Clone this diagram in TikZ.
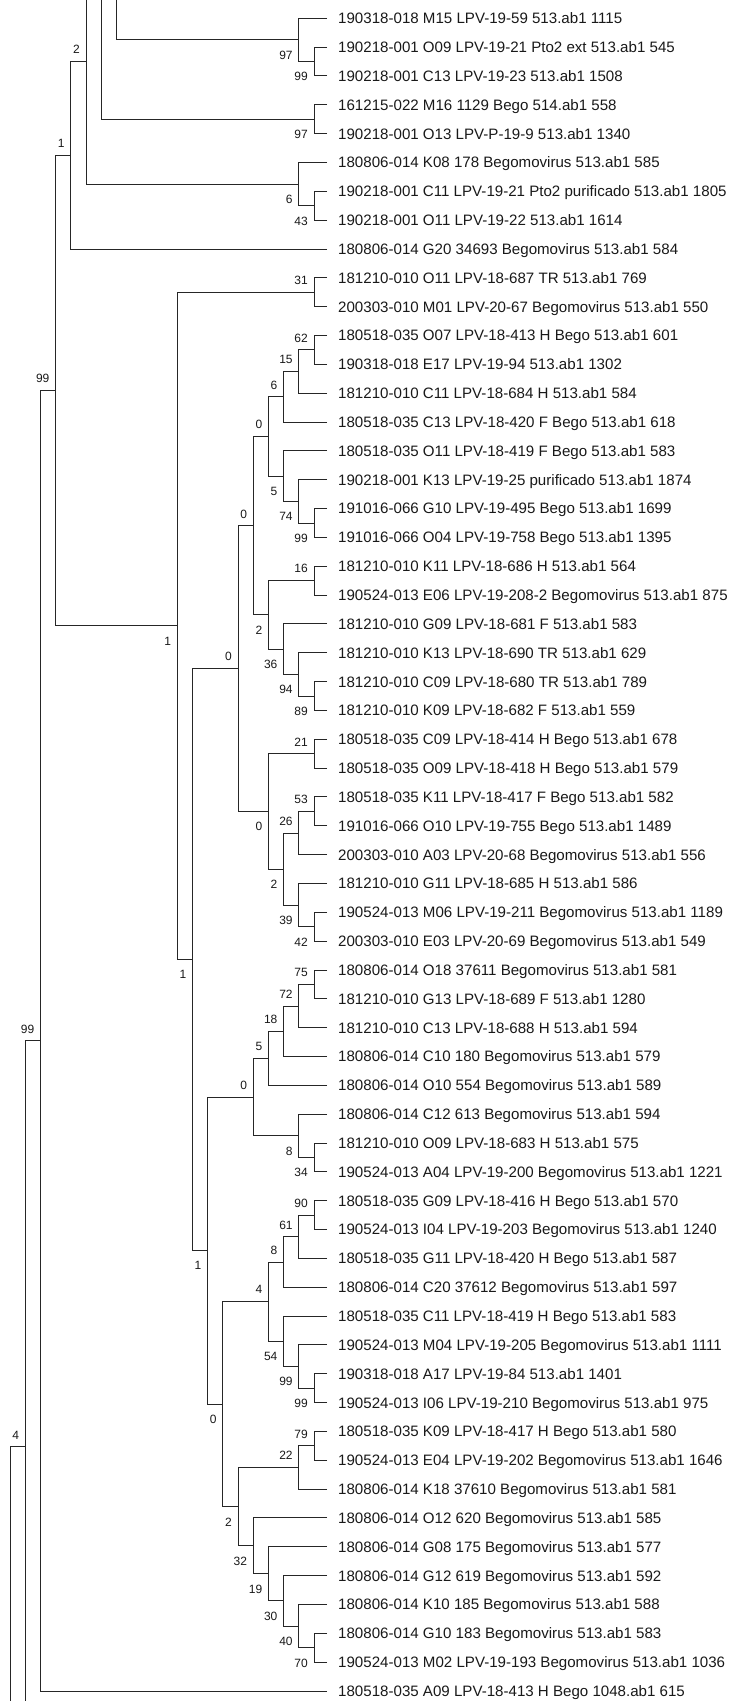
\documentclass[tikz,border=0pt]{standalone}
\usepackage{fontspec}
\setmainfont{Liberation Sans}
\usetikzlibrary{calc}
\tikzset{
  branch/.style={line width=1pt, draw=black!85},
  leaf/.style={anchor=west, inner xsep=11pt, inner ysep=0pt, text height=10.8pt, text depth=0pt, font=\fontsize{15.1}{17}\selectfont, text=black!90},
  bs/.style={anchor=east, inner sep=0pt, text height=8.6pt, text depth=0pt, font=\fontsize{12}{14}\selectfont, text=black!90}
}
\newcommand\tleaf[2]{\node[leaf] (L#1) at (327,{18.3+(#1-1)*28.84}) {#2};}
\newcommand\tnode[4]{\coordinate (#1) at ($(#2 |- #3)!.5!(#2 |- #4)$);}
\newcommand\tbr[2]{\draw[branch] (#1) -| (#2);}
\newcommand\labA[2]{\node[bs] (b#1) at ([xshift=-6pt,yshift=12pt]#1) {#2};}
\newcommand\labB[2]{\node[bs] (b#1) at ([xshift=-6pt,yshift=-15pt]#1) {#2};}
\begin{document}
\begin{tikzpicture}[x=1pt,y=-1pt]
\fill[white] (0,0) rectangle (731,1701);
\clip (0,0) rectangle (731,1701);
\useasboundingbox (0,0) rectangle (731,1701);
% level columns
\coordinate (k0) at (10,0);
\coordinate (k1) at (25.2,0);
\coordinate (k2) at (40.4,0);
\coordinate (k3) at (55.6,0);
\coordinate (k4) at (70.8,0);
\coordinate (k5) at (86.0,0);
\coordinate (k6) at (101.2,0);
\coordinate (k7) at (116.4,0);
\coordinate (k11) at (177.2,0);
\coordinate (k12) at (192.4,0);
\coordinate (k13) at (207.6,0);
\coordinate (k14) at (222.8,0);
\coordinate (k15) at (238.0,0);
\coordinate (k16) at (253.2,0);
\coordinate (k17) at (268.4,0);
\coordinate (k18) at (283.6,0);
\coordinate (k19) at (298.8,0);
\coordinate (k20) at (314.0,0);
% leaves
\tleaf{1}{190318-018 M15 LPV-19-59 513.ab1 1115}
\tleaf{2}{190218-001 O09 LPV-19-21 Pto2 ext 513.ab1 545}
\tleaf{3}{190218-001 C13 LPV-19-23 513.ab1 1508}
\tleaf{4}{161215-022 M16 1129 Bego 514.ab1 558}
\tleaf{5}{190218-001 O13 LPV-P-19-9 513.ab1 1340}
\tleaf{6}{180806-014 K08 178 Begomovirus 513.ab1 585}
\tleaf{7}{190218-001 C11 LPV-19-21 Pto2 purificado 513.ab1 1805}
\tleaf{8}{190218-001 O11 LPV-19-22 513.ab1 1614}
\tleaf{9}{180806-014 G20 34693 Begomovirus 513.ab1 584}
\tleaf{10}{181210-010 O11 LPV-18-687 TR 513.ab1 769}
\tleaf{11}{200303-010 M01 LPV-20-67 Begomovirus 513.ab1 550}
\tleaf{12}{180518-035 O07 LPV-18-413 H Bego 513.ab1 601}
\tleaf{13}{190318-018 E17 LPV-19-94 513.ab1 1302}
\tleaf{14}{181210-010 C11 LPV-18-684 H 513.ab1 584}
\tleaf{15}{180518-035 C13 LPV-18-420 F Bego 513.ab1 618}
\tleaf{16}{180518-035 O11 LPV-18-419 F Bego 513.ab1 583}
\tleaf{17}{190218-001 K13 LPV-19-25 purificado 513.ab1 1874}
\tleaf{18}{191016-066 G10 LPV-19-495 Bego 513.ab1 1699}
\tleaf{19}{191016-066 O04 LPV-19-758 Bego 513.ab1 1395}
\tleaf{20}{181210-010 K11 LPV-18-686 H 513.ab1 564}
\tleaf{21}{190524-013 E06 LPV-19-208-2 Begomovirus 513.ab1 875}
\tleaf{22}{181210-010 G09 LPV-18-681 F 513.ab1 583}
\tleaf{23}{181210-010 K13 LPV-18-690 TR 513.ab1 629}
\tleaf{24}{181210-010 C09 LPV-18-680 TR 513.ab1 789}
\tleaf{25}{181210-010 K09 LPV-18-682 F 513.ab1 559}
\tleaf{26}{180518-035 C09 LPV-18-414 H Bego 513.ab1 678}
\tleaf{27}{180518-035 O09 LPV-18-418 H Bego 513.ab1 579}
\tleaf{28}{180518-035 K11 LPV-18-417 F Bego 513.ab1 582}
\tleaf{29}{191016-066 O10 LPV-19-755 Bego 513.ab1 1489}
\tleaf{30}{200303-010 A03 LPV-20-68 Begomovirus 513.ab1 556}
\tleaf{31}{181210-010 G11 LPV-18-685 H 513.ab1 586}
\tleaf{32}{190524-013 M06 LPV-19-211 Begomovirus 513.ab1 1189}
\tleaf{33}{200303-010 E03 LPV-20-69 Begomovirus 513.ab1 549}
\tleaf{34}{180806-014 O18 37611 Begomovirus 513.ab1 581}
\tleaf{35}{181210-010 G13 LPV-18-689 F 513.ab1 1280}
\tleaf{36}{181210-010 C13 LPV-18-688 H 513.ab1 594}
\tleaf{37}{180806-014 C10 180 Begomovirus 513.ab1 579}
\tleaf{38}{180806-014 O10 554 Begomovirus 513.ab1 589}
\tleaf{39}{180806-014 C12 613 Begomovirus 513.ab1 594}
\tleaf{40}{181210-010 O09 LPV-18-683 H 513.ab1 575}
\tleaf{41}{190524-013 A04 LPV-19-200 Begomovirus 513.ab1 1221}
\tleaf{42}{180518-035 G09 LPV-18-416 H Bego 513.ab1 570}
\tleaf{43}{190524-013 I04 LPV-19-203 Begomovirus 513.ab1 1240}
\tleaf{44}{180518-035 G11 LPV-18-420 H Bego 513.ab1 587}
\tleaf{45}{180806-014 C20 37612 Begomovirus 513.ab1 597}
\tleaf{46}{180518-035 C11 LPV-18-419 H Bego 513.ab1 583}
\tleaf{47}{190524-013 M04 LPV-19-205 Begomovirus 513.ab1 1111}
\tleaf{48}{190318-018 A17 LPV-19-84 513.ab1 1401}
\tleaf{49}{190524-013 I06 LPV-19-210 Begomovirus 513.ab1 975}
\tleaf{50}{180518-035 K09 LPV-18-417 H Bego 513.ab1 580}
\tleaf{51}{190524-013 E04 LPV-19-202 Begomovirus 513.ab1 1646}
\tleaf{52}{180806-014 K18 37610 Begomovirus 513.ab1 581}
\tleaf{53}{180806-014 O12 620 Begomovirus 513.ab1 585}
\tleaf{54}{180806-014 G08 175 Begomovirus 513.ab1 577}
\tleaf{55}{180806-014 G12 619 Begomovirus 513.ab1 592}
\tleaf{56}{180806-014 K10 185 Begomovirus 513.ab1 588}
\tleaf{57}{180806-014 G10 183 Begomovirus 513.ab1 583}
\tleaf{58}{190524-013 M02 LPV-19-193 Begomovirus 513.ab1 1036}
\tleaf{59}{180518-035 A09 LPV-18-413 H Bego 1048.ab1 615}
% internal nodes: top part
\tnode{B}{k20}{L2}{L3}
\tnode{A}{k19}{L1}{B}
\tnode{C}{k20}{L4}{L5}
\tnode{E}{k20}{L7}{L8}
\tnode{D}{k19}{L6}{E}
\coordinate (N5) at (86.0,61.5);
\tnode{N4}{k4}{N5}{L9}
\coordinate (T5) at (86.0,-5);
\coordinate (T6) at (101.2,-5);
\coordinate (T7) at (116.4,-5);
% main clade
\tnode{P31}{k20}{L10}{L11}
\tnode{P62}{k20}{L12}{L13}
\tnode{N19a}{k19}{P62}{L14}
\tnode{N18a}{k18}{N19a}{L15}
\tnode{P99a}{k20}{L18}{L19}
\tnode{N19b}{k19}{L17}{P99a}
\tnode{N18b}{k18}{L16}{N19b}
\tnode{N17a}{k17}{N18a}{N18b}
\tnode{P16}{k20}{L20}{L21}
\tnode{P89}{k20}{L24}{L25}
\tnode{N19c}{k19}{L23}{P89}
\tnode{N18c}{k18}{L22}{N19c}
\tnode{N17b}{k17}{P16}{N18c}
\tnode{N16a}{k16}{N17a}{N17b}
\tnode{P21}{k20}{L26}{L27}
\tnode{P53}{k20}{L28}{L29}
\tnode{N19d}{k19}{P53}{L30}
\tnode{P42}{k20}{L32}{L33}
\tnode{N19e}{k19}{L31}{P42}
\tnode{N18d}{k18}{N19d}{N19e}
\tnode{N17c}{k17}{P21}{N18d}
\tnode{N15a}{k15}{N16a}{N17c}
\tnode{P75}{k20}{L34}{L35}
\tnode{N19g}{k19}{P75}{L36}
\tnode{N18e}{k18}{N19g}{L37}
\tnode{N17d}{k17}{N18e}{L38}
\tnode{P34}{k20}{L40}{L41}
\tnode{N19f}{k19}{L39}{P34}
\tnode{N16b}{k16}{N17d}{N19f}
\tnode{P90}{k20}{L42}{L43}
\tnode{N19h}{k19}{P90}{L44}
\tnode{N18f}{k18}{N19h}{L45}
\tnode{P99b}{k20}{L48}{L49}
\tnode{N19i}{k19}{L47}{P99b}
\tnode{N18g}{k18}{L46}{N19i}
\tnode{N17e}{k17}{N18f}{N18g}
\tnode{P79}{k20}{L50}{L51}
\tnode{N19j}{k19}{P79}{L52}
\tnode{P70}{k20}{L57}{L58}
\tnode{N19k}{k19}{L56}{P70}
\tnode{N18h}{k18}{L55}{N19k}
\tnode{N17f}{k17}{L54}{N18h}
\tnode{N16c}{k16}{L53}{N17f}
\tnode{N15b}{k15}{N19j}{N16c}
\tnode{N14}{k14}{N17e}{N15b}
\tnode{N13}{k13}{N16b}{N14}
\tnode{N12}{k12}{N15a}{N13}
\tnode{N11}{k11}{P31}{N12}
\tnode{N3}{k3}{N4}{N11}
\tnode{N2}{k2}{N3}{L59}
\coordinate (N1) at (25.2,1446.7);
\coordinate (B1) at (25.2,1710);
\coordinate (B0) at (10,1710);
% branches: top
\tbr{L2.west}{B} \tbr{L3.west}{B}
\tbr{L1.west}{A} \tbr{B}{A}
\tbr{L4.west}{C} \tbr{L5.west}{C}
\tbr{L7.west}{E} \tbr{L8.west}{E}
\tbr{L6.west}{D} \tbr{E}{D}
\tbr{A}{T7}
\tbr{C}{T6}
\tbr{D}{T5}
\tbr{N5}{N4} \tbr{L9.west}{N4}
% branches: main
\tbr{L10.west}{P31} \tbr{L11.west}{P31}
\tbr{L12.west}{P62} \tbr{L13.west}{P62}
\tbr{P62}{N19a} \tbr{L14.west}{N19a}
\tbr{N19a}{N18a} \tbr{L15.west}{N18a}
\tbr{L18.west}{P99a} \tbr{L19.west}{P99a}
\tbr{L17.west}{N19b} \tbr{P99a}{N19b}
\tbr{L16.west}{N18b} \tbr{N19b}{N18b}
\tbr{N18a}{N17a} \tbr{N18b}{N17a}
\tbr{L20.west}{P16} \tbr{L21.west}{P16}
\tbr{L24.west}{P89} \tbr{L25.west}{P89}
\tbr{L23.west}{N19c} \tbr{P89}{N19c}
\tbr{L22.west}{N18c} \tbr{N19c}{N18c}
\tbr{P16}{N17b} \tbr{N18c}{N17b}
\tbr{N17a}{N16a} \tbr{N17b}{N16a}
\tbr{L26.west}{P21} \tbr{L27.west}{P21}
\tbr{L28.west}{P53} \tbr{L29.west}{P53}
\tbr{P53}{N19d} \tbr{L30.west}{N19d}
\tbr{L32.west}{P42} \tbr{L33.west}{P42}
\tbr{L31.west}{N19e} \tbr{P42}{N19e}
\tbr{N19d}{N18d} \tbr{N19e}{N18d}
\tbr{P21}{N17c} \tbr{N18d}{N17c}
\tbr{N16a}{N15a} \tbr{N17c}{N15a}
\tbr{L34.west}{P75} \tbr{L35.west}{P75}
\tbr{P75}{N19g} \tbr{L36.west}{N19g}
\tbr{N19g}{N18e} \tbr{L37.west}{N18e}
\tbr{N18e}{N17d} \tbr{L38.west}{N17d}
\tbr{L40.west}{P34} \tbr{L41.west}{P34}
\tbr{L39.west}{N19f} \tbr{P34}{N19f}
\tbr{N17d}{N16b} \tbr{N19f}{N16b}
\tbr{L42.west}{P90} \tbr{L43.west}{P90}
\tbr{P90}{N19h} \tbr{L44.west}{N19h}
\tbr{N19h}{N18f} \tbr{L45.west}{N18f}
\tbr{L48.west}{P99b} \tbr{L49.west}{P99b}
\tbr{L47.west}{N19i} \tbr{P99b}{N19i}
\tbr{L46.west}{N18g} \tbr{N19i}{N18g}
\tbr{N18f}{N17e} \tbr{N18g}{N17e}
\tbr{L50.west}{P79} \tbr{L51.west}{P79}
\tbr{P79}{N19j} \tbr{L52.west}{N19j}
\tbr{L57.west}{P70} \tbr{L58.west}{P70}
\tbr{L56.west}{N19k} \tbr{P70}{N19k}
\tbr{L55.west}{N18h} \tbr{N19k}{N18h}
\tbr{L54.west}{N17f} \tbr{N18h}{N17f}
\tbr{L53.west}{N16c} \tbr{N17f}{N16c}
\tbr{N19j}{N15b} \tbr{N16c}{N15b}
\tbr{N17e}{N14} \tbr{N15b}{N14}
\tbr{N16b}{N13} \tbr{N14}{N13}
\tbr{N15a}{N12} \tbr{N13}{N12}
\tbr{P31}{N11} \tbr{N12}{N11}
\tbr{N4}{N3} \tbr{N11}{N3}
\tbr{N3}{N2} \tbr{L59.west}{N2}
\tbr{N2}{N1} \draw[branch] (N1) -- (B1);
\tbr{N1}{B0}
% bootstrap labels
\labB{A}{97} \labB{B}{99} \labB{C}{97} \labB{D}{6} \labB{E}{43}
\labA{N5}{2} \labA{N4}{1} \labA{N3}{99} \labA{N2}{99} \labA{N1}{4}
\labA{P31}{31} \labB{N11}{1} \labB{N12}{1}
\labA{N15a}{0} \labA{N16a}{0} \labA{N17a}{0} \labA{N18a}{6} \labA{N19a}{15} \labA{P62}{62}
\labB{N18b}{5} \labB{N19b}{74} \labB{P99a}{99}
\labB{N17b}{2} \labA{P16}{16} \labB{N18c}{36} \labB{N19c}{94} \labB{P89}{89}
\labB{N17c}{0} \labA{P21}{21} \labB{N18d}{2} \labA{N19d}{26} \labA{P53}{53} \labB{N19e}{39} \labB{P42}{42}
\labB{N13}{1} \labA{N16b}{0} \labA{N17d}{5} \labA{N18e}{18} \labA{N19g}{72} \labA{P75}{75}
\labB{N19f}{8} \labB{P34}{34}
\labB{N14}{0} \labA{N17e}{4} \labA{N18f}{8} \labA{N19h}{61} \labA{P90}{90}
\labB{N18g}{54} \labB{N19i}{99} \labB{P99b}{99}
\labB{N15b}{2} \labA{N19j}{22} \labA{P79}{79}
\labB{N16c}{32} \labB{N17f}{19} \labB{N18h}{30} \labB{N19k}{40} \labB{P70}{70}
\end{tikzpicture}
\end{document}
